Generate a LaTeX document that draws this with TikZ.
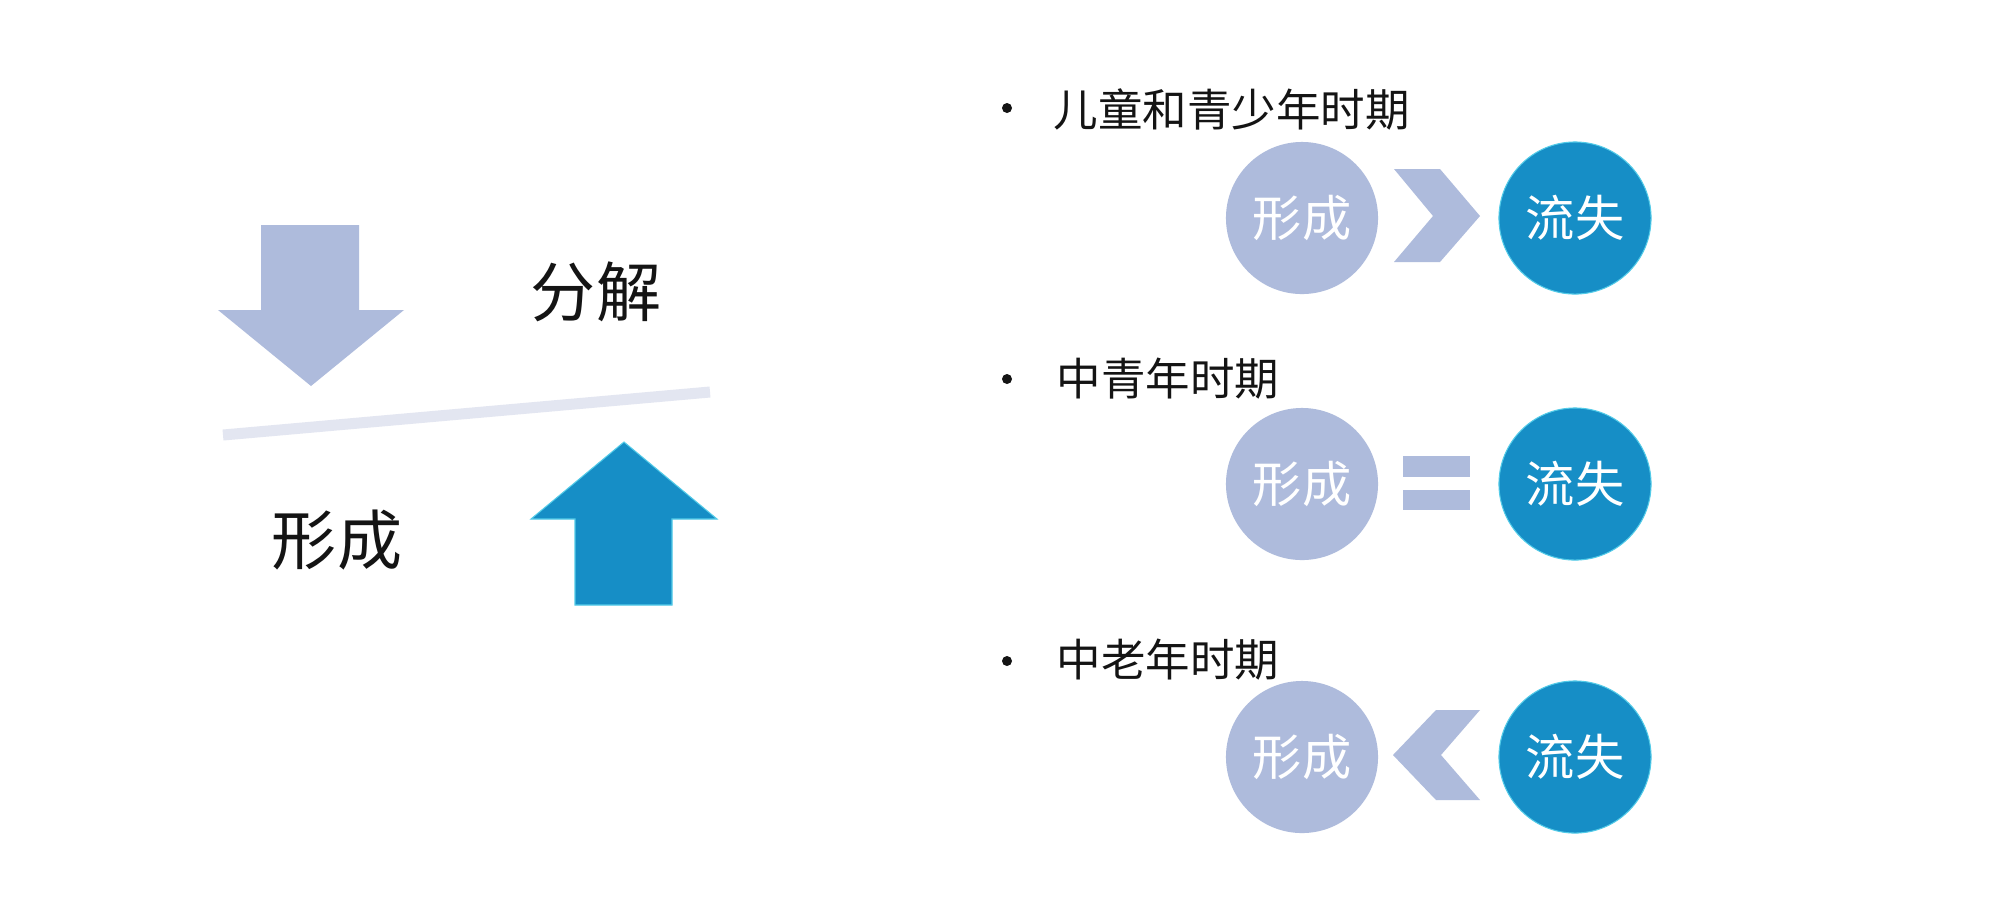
\documentclass[tikz,border=0pt]{standalone}
\usepackage{fontspec}
\setmainfont{Noto Sans CJK SC}
\definecolor{lavender}{HTML}{AEBBDC}
\definecolor{oceanblue}{HTML}{168EC6}
\definecolor{glowblue}{HTML}{52CBE8}
\definecolor{palegrey}{HTML}{E3E6F1}
\definecolor{inkgrey}{HTML}{141414}
\begin{document}
\begin{tikzpicture}[
  x=0.01cm,
  y=-0.01cm,
  inner sep=0pt,
  big/.style={
    text=inkgrey,
    font=\fontsize{18.5}{20}\selectfont
  },
  period/.style={
    anchor=west,
    text=inkgrey,
    font=\fontsize{12.65}{14}\selectfont
  },
  dot/.style={
    circle,
    fill=inkgrey,
    minimum size=0.1cm
  },
  form/.style={
    circle,
    fill=lavender,
    minimum size=1.52cm,
    text=white,
    font=\fontsize{14}{16}\selectfont
  },
  loss/.style={
    circle,
    fill=oceanblue,
    draw=glowblue,
    line width=0.3pt,
    minimum size=1.52cm,
    text=white,
    font=\fontsize{14}{16}\selectfont
  },
  tilt/.style={
    line width=0.11cm,
    draw=palegrey
  }
  ]

  \useasboundingbox (0,0) rectangle (1996,920);
  \fill [white] (0,0) rectangle (1996,920);

  % left side
  \fill [lavender] (261,225) -- (359,225) -- (359,310) -- (404,310) -- (311,386) -- (218,310) -- (261,310) -- cycle;
  \fill [oceanblue,draw=glowblue,line width=0.3pt] (624,442) -- (717,519) -- (672,519) -- (672,605) -- (575,605) -- (575,519) -- (531,519) -- cycle;

  \coordinate (tilt-low) at (223,435);
  \coordinate (tilt-high) at (710,392);
  \draw [tilt] (tilt-low) -- (tilt-high);

  \node (decompose) [big] at (596,292) {分解};
  \node (forming) [big] at (337,540) {形成};

  % right side
  \node (dot-child) [dot] at (1007,108) {};
  \node (dot-middle) [dot] at (1007,379) {};
  \node (dot-old) [dot] at (1007,661) {};
  \node (child) [period] at (1053,109) {儿童和青少年时期};
  \node (middle) [period] at (1056,379) {中青年时期};
  \node (old) [period] at (1056,660) {中老年时期};

  \node (form-child) [form] at (1302,218) {形成};
  \node (loss-child) [loss] at (1575,218) {流失};
  \node (form-middle) [form] at (1302,484) {形成};
  \node (loss-middle) [loss] at (1575,484) {流失};
  \node (form-old) [form] at (1302,757) {形成};
  \node (loss-old) [loss] at (1575,757) {流失};

  \fill [lavender] (1394,169) -- (1440,169) -- (1480,216) -- (1440,262) -- (1394,262) -- (1433,216) -- cycle;
  \fill [lavender] (1403,456) rectangle (1470,477);
  \fill [lavender] (1403,490) rectangle (1470,510);
  \fill [lavender] (1480,710) -- (1436,710) -- (1393,755) -- (1436,800) -- (1480,800) -- (1441,755) -- cycle;
\end{tikzpicture}
\end{document}
